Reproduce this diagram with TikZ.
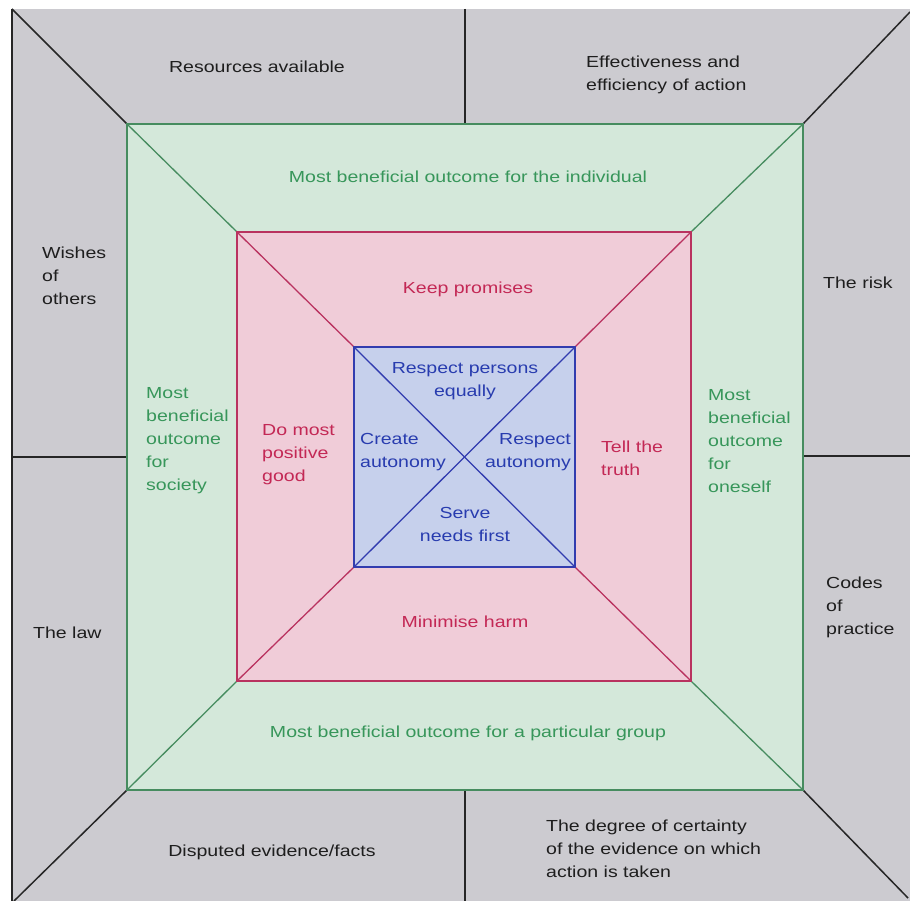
\documentclass[tikz,border=0pt]{standalone}
\usepackage{fontspec}
\setmainfont{Liberation Sans}[FakeStretch=1.22]
\definecolor{bggray}{RGB}{204,203,208}
\definecolor{gfill}{RGB}{212,232,218}
\definecolor{gline}{RGB}{70,140,95}
\definecolor{gtext}{RGB}{55,150,90}
\definecolor{pfill}{RGB}{240,204,216}
\definecolor{pline}{RGB}{185,50,95}
\definecolor{ptext}{RGB}{195,40,85}
\definecolor{bfill}{RGB}{198,208,236}
\definecolor{bline}{RGB}{50,60,175}
\definecolor{btext}{RGB}{40,60,175}
\definecolor{ktext}{RGB}{30,30,30}
\tikzset{
  lbl/.style={inner sep=0pt, font=\fontsize{16}{23}\selectfont},
  ktx/.style={lbl, text=ktext},
  gtx/.style={lbl, text=gtext},
  ptx/.style={lbl, text=ptext},
  btx/.style={lbl, text=btext},
  kline/.style={draw=black!85, line width=1.5pt},
  glin/.style={draw=gline, line width=1.3pt},
  plin/.style={draw=pline, line width=1.3pt},
  blin/.style={draw=bline, line width=1.3pt},
}
\begin{document}
\begin{tikzpicture}[x=1pt,y=-1pt]
\useasboundingbox (0,0) rectangle (910,901);
\fill[white] (0,0) rectangle (910,901);
\fill[bggray] (12,9) rectangle (910,901);
% outer frame coordinates
\coordinate (oTL) at (12,9);
\coordinate (oTR) at (910,12);
\coordinate (oBL) at (14,901);
\coordinate (oBR) at (908,898);
\coordinate (oT) at (465,9);
\coordinate (oB) at (465,901);
\coordinate (oL) at (12,457);
\coordinate (oR) at (910,456);
\coordinate (oLb) at (12,901);
% green square
\coordinate (gTL) at (127,124);
\coordinate (gTR) at (803,124);
\coordinate (gBR) at (803,790);
\coordinate (gBL) at (127,790);
\coordinate (gT) at (465,124);
\coordinate (gB) at (465,790);
\coordinate (gL) at (127,457);
\coordinate (gR) at (803,456);
% pink square
\coordinate (pTL) at (237,232);
\coordinate (pTR) at (691,232);
\coordinate (pBR) at (691,681);
\coordinate (pBL) at (237,681);
% blue square
\coordinate (bTL) at (354,347);
\coordinate (bTR) at (575,347);
\coordinate (bBR) at (575,567);
\coordinate (bBL) at (354,567);
% fills
\fill[gfill] (gTL) rectangle (gBR);
\fill[pfill] (pTL) rectangle (pBR);
\fill[bfill] (bTL) rectangle (bBR);
% outer lines
\draw[kline] (oTL) -- (oLb);
\draw[kline] (oTL) -- (gTL);
\draw[kline] (oTR) -- (gTR);
\draw[kline] (oBL) -- (gBL);
\draw[kline] (oBR) -- (gBR);
\draw[kline] (oT) -- (gT);
\draw[kline] (oB) -- (gB);
\draw[kline] (oL) -- (gL);
\draw[kline] (oR) -- (gR);
% green lines
\draw[glin] (gTL) rectangle (gBR);
\draw[glin] (gTL) -- (pTL);
\draw[glin] (gTR) -- (pTR);
\draw[glin] (gBR) -- (pBR);
\draw[glin] (gBL) -- (pBL);
% pink lines
\draw[plin] (pTL) rectangle (pBR);
\draw[plin] (pTL) -- (bTL);
\draw[plin] (pTR) -- (bTR);
\draw[plin] (pBR) -- (bBR);
\draw[plin] (pBL) -- (bBL);
% blue lines
\draw[blin] (bTL) rectangle (bBR);
\draw[blin] (bTL) -- (bBR);
\draw[blin] (bTR) -- (bBL);
% outer texts
\node[ktx] (t1) at (257,67) {Resources available};
\node[ktx, anchor=west, align=left] (t2) at (586,75) {Effectiveness and\\efficiency of action};
\node[ktx, anchor=west, align=left] (t3) at (42,276) {Wishes\\of\\others};
\node[ktx, anchor=west] (t4) at (823,283) {The risk};
\node[ktx, anchor=west] (t5) at (33,633) {The law};
\node[ktx, anchor=west, align=left] (t6) at (826,607) {Codes\\of\\practice};
\node[ktx] (t7) at (272,852) {Disputed evidence/facts};
\node[ktx, anchor=west, align=left] (t8) at (546,849) {The degree of certainty\\of the evidence on which\\action is taken};
% green texts
\node[gtx] (g1) at (468,177) {Most beneficial outcome for the individual};
\node[gtx, anchor=west, align=left] (g2) at (146,441) {Most\\beneficial\\outcome\\for\\society};
\node[gtx, anchor=west, align=left] (g3) at (708,441) {Most\\beneficial\\outcome\\for\\oneself};
\node[gtx] (g4) at (468,733) {Most beneficial outcome for a particular group};
% pink texts
\node[ptx] (p1) at (468,289) {Keep promises};
\node[ptx, anchor=west, align=left] (p2) at (262,455) {Do most\\positive\\good};
\node[ptx, anchor=west, align=left] (p3) at (601,458) {Tell the\\truth};
\node[ptx] (p4) at (465,622) {Minimise harm};
% blue texts
\node[btx, align=center] (b1) at (465,381) {Respect persons\\equally};
\node[btx, anchor=west, align=left] (b2) at (360,452) {Create\\autonomy};
\node[btx, anchor=east, align=right] (b3) at (571,452) {Respect\\autonomy};
\node[btx, align=center] (b4) at (465,524) {Serve\\needs first};
\end{tikzpicture}
\end{document}
